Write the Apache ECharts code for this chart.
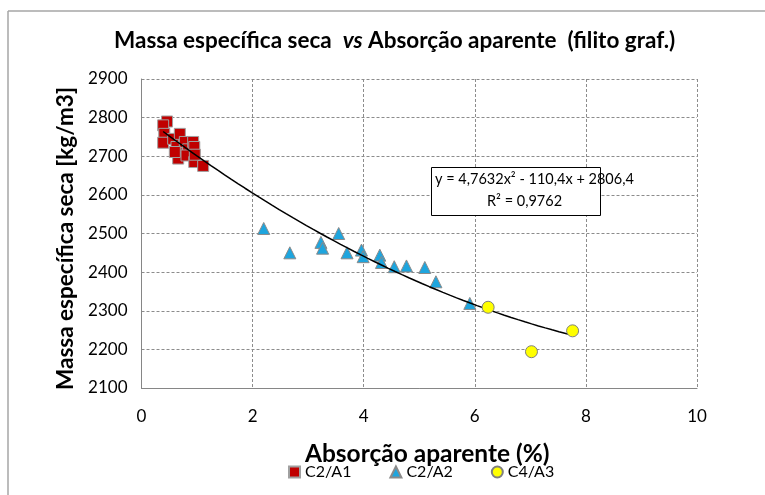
<!DOCTYPE html>
<html>
<head>
<meta charset="utf-8">
<script src="https://cdn.jsdelivr.net/npm/echarts@6/dist/echarts.min.js"></script>
<style>html,body{margin:0;padding:0;background:#fff}#c{width:765px;height:495px}</style>
</head>
<body>
<div id="c"></div>
<script>
// Data
const seriesNames = ['C2/A1', 'C2/A2', 'C4/A3'];
const a1X = [0.46, 0.39, 0.41, 0.39, 0.57, 0.69, 0.63, 0.78, 0.84, 0.93, 0.95, 0.66, 0.81, 0.95, 0.96, 1.11, 0.60];
const a1Y = [2790, 2780, 2758, 2735, 2745, 2758, 2724, 2737, 2718, 2737, 2724, 2694, 2702, 2685, 2704, 2675, 2711];
const a2X = [2.20, 2.67, 3.23, 3.26, 3.55, 3.70, 3.96, 3.99, 4.29, 4.32, 4.55, 4.77, 5.10, 5.30, 5.91];
const a2Y = [2513, 2450, 2477, 2462, 2500, 2450, 2457, 2440, 2444, 2425, 2414, 2416, 2412, 2375, 2319];
const a3X = [6.24, 7.76, 7.02];
const a3Y = [2309, 2248, 2194];
// Trendline as stated on the chart: y = 4,7632x² - 110,4x + 2806,4
const trendCoef = [4.7632, -110.4, 2806.4];
const trendRange = [0.39, 7.76];
const xTicks = [0, 2, 4, 6, 8, 10];
const yTicks = [2100, 2200, 2300, 2400, 2500, 2600, 2700, 2800, 2900];

const zip = (xs, ys) => xs.map((x, i) => [x, ys[i]]);
const trend = [];
for (let k = 0; k <= 60; k++) {
  const x = trendRange[0] + (trendRange[1] - trendRange[0]) * k / 60;
  trend.push([x, trendCoef[0] * x * x + trendCoef[1] * x + trendCoef[2]]);
}

const FONT = 'Lato, "Open Sans", sans-serif';
const chart = echarts.init(document.getElementById('c'), null, {renderer: 'canvas'});
chart.setOption({
  animation: false,
  backgroundColor: '#fff',
  textStyle: {fontFamily: FONT},
  title: {
    left: 109, top: 24,
    text: '{b|Massa específica seca  }{i|vs}{b| Absorção aparente  (filito graf.)}',
    textStyle: {
      rich: {
        b: {fontFamily: FONT, fontWeight: 'bold', fontSize: 22.5, color: '#000'},
        i: {fontFamily: FONT, fontWeight: 'bold', fontStyle: 'italic', fontSize: 22.5, color: '#000'}
      }
    }
  },
  grid: {left: 141.5, right: 68, top: 79, bottom: 107, containLabel: false},
  xAxis: {
    type: 'value', min: xTicks[0], max: xTicks[xTicks.length - 1], interval: 2,
    name: 'Absorção aparente (%)', nameLocation: 'middle', nameGap: 54,
    nameTextStyle: {fontFamily: FONT, fontWeight: 'bold', fontSize: 24.5, color: '#000', padding: [0, 0, 0, 16]},
    axisLine: {show: true, lineStyle: {color: '#868686', width: 1}},
    axisTick: {show: false},
    axisLabel: {fontSize: 17, color: '#000', margin: 20, fontFamily: FONT,
      formatter: v => String(v)},
    splitLine: {show: true, lineStyle: {color: '#8c8c8c', type: [3, 2], width: 1}}
  },
  yAxis: {
    type: 'value', min: yTicks[0], max: yTicks[yTicks.length - 1], interval: 100,
    name: 'Massa específica seca [kg/m3]', nameLocation: 'middle', nameGap: 57, nameRotate: 90,
    nameTextStyle: {fontFamily: FONT, fontWeight: 'bold', fontSize: 22.5, color: '#000', padding: [0, 10, 0, 0]},
    axisLine: {show: true, lineStyle: {color: '#868686', width: 1}},
    axisTick: {show: false},
    axisLabel: {fontSize: 17, color: '#000', margin: 14, fontFamily: FONT,
      formatter: v => String(v)},
    splitLine: {show: true, lineStyle: {color: '#8c8c8c', type: [3, 2], width: 1}}
  },
  legend: {
    bottom: 10, left: 283, itemGap: 38, itemWidth: 11, itemHeight: 11,
    textStyle: {fontSize: 16, color: '#000', fontFamily: FONT},
    data: seriesNames
  },
  series: [
    {
      name: 'trend', type: 'line', data: trend, showSymbol: false, smooth: false,
      lineStyle: {color: '#000', width: 1.5}, z: 3, silent: true
    },
    {
      name: seriesNames[0], type: 'scatter', data: zip(a1X, a1Y), symbol: 'rect', symbolSize: 11,
      itemStyle: {color: '#c00000', borderColor: '#a0a0a0', borderWidth: 1, opacity: 1}, z: 2
    },
    {
      name: seriesNames[1], type: 'scatter', data: zip(a2X, a2Y), symbol: 'triangle', symbolSize: 12,
      itemStyle: {color: '#1ea5de', borderColor: '#8a8a8a', borderWidth: 1, opacity: 1}, z: 2
    },
    {
      name: seriesNames[2], type: 'scatter', data: zip(a3X, a3Y), symbol: 'circle', symbolSize: 12,
      itemStyle: {color: '#ffff00', borderColor: '#7f7f7f', borderWidth: 1, opacity: 1}, z: 4
    }
  ],
  graphic: [
    {type: 'line', shape: {x1: 8, y1: 11, x2: 765, y2: 11}, style: {stroke: '#a6a6a6', lineWidth: 1.5}},
    {type: 'line', shape: {x1: 8, y1: 11, x2: 8, y2: 495}, style: {stroke: '#a6a6a6', lineWidth: 1.5}},
    {type: 'rect', shape: {x: 431.5, y: 167.5, width: 169, height: 48},
     style: {fill: '#fff', stroke: '#000', lineWidth: 1}, z: 10},
    {type: 'text', left: 435, top: 172, z: 11,
     style: {text: 'y = 4,7632x² - 110,4x + 2806,4', fontSize: 14.5, fontFamily: FONT, fill: '#000'}},
    {type: 'text', left: 487, top: 194, z: 11,
     style: {text: 'R² = 0,9762', fontSize: 14.5, fontFamily: FONT, fill: '#000'}}
  ]
});
</script>
</body>
</html>
